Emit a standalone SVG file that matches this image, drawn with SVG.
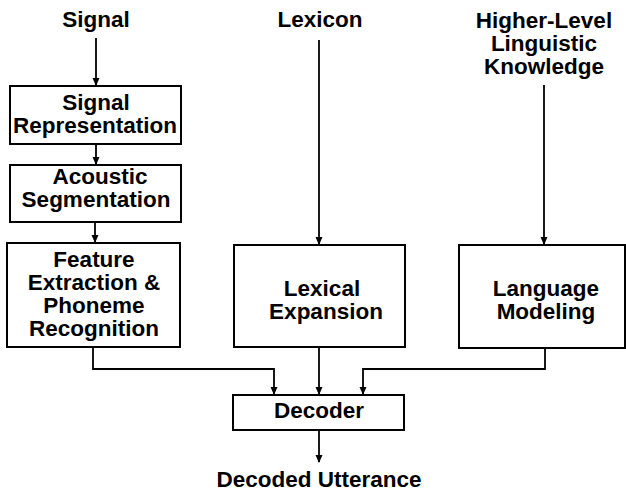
<svg xmlns="http://www.w3.org/2000/svg" width="626" height="491" viewBox="0 0 626 491">
<defs>
<marker id="ah" markerWidth="8" markerHeight="10" refX="7" refY="4" orient="auto" markerUnits="userSpaceOnUse">
<path d="M0,0.5 L8,4 L0,7.5 Z" fill="#000"/>
</marker>
<style>
.box{fill:#fff;stroke:#000;stroke-width:2}
.t{font-family:"Liberation Sans",Arial,sans-serif;font-weight:bold;font-size:22.5px;text-anchor:middle;fill:#000}
.c{fill:none;stroke:#000;stroke-width:1.8}
</style>
</defs>
<rect width="626" height="491" fill="#fff"/>
<g id="connectors">
<path class="c" d="M96,38 V85" marker-end="url(#ah)"/>
<path class="c" d="M96,144 V164" marker-end="url(#ah)"/>
<path class="c" d="M95,222 V242" marker-end="url(#ah)"/>
<path class="c" d="M319,40 V244" marker-end="url(#ah)"/>
<path class="c" d="M544,85 V244" marker-end="url(#ah)"/>
<path class="c" d="M93,347 V369 H274 V394" marker-end="url(#ah)"/>
<path class="c" d="M319,347 V394" marker-end="url(#ah)"/>
<path class="c" d="M545,348 V369 H363 V394" marker-end="url(#ah)"/>
<path class="c" d="M319,430 V462" marker-end="url(#ah)"/>
</g>
<g id="signal"><text class="t" x="96" y="27">Signal</text></g>
<g id="lexicon"><text class="t" x="320" y="27">Lexicon</text></g>
<g id="knowledge"><text class="t" x="544" y="28">Higher-Level</text><text class="t" x="544" y="51">Linguistic</text><text class="t" x="544" y="74">Knowledge</text></g>
<g id="sigrep"><rect class="box" x="10" y="86" width="171" height="58"/><text class="t" x="96" y="110">Signal</text><text class="t" x="95" y="133">Representation</text></g>
<g id="acoustic"><rect class="box" x="10" y="165" width="171" height="57"/><text class="t" x="100" y="184">Acoustic</text><text class="t" x="96" y="207">Segmentation</text></g>
<g id="feature"><rect class="box" x="7" y="243" width="173" height="104"/><text class="t" x="94" y="267">Feature</text><text class="t" x="94" y="290">Extraction &amp;</text><text class="t" x="94" y="313">Phoneme</text><text class="t" x="94" y="336">Recognition</text></g>
<g id="lexical"><rect class="box" x="234" y="245" width="171" height="102"/><text class="t" x="322" y="296">Lexical</text><text class="t" x="326" y="319">Expansion</text></g>
<g id="language"><rect class="box" x="459" y="245" width="166" height="103"/><text class="t" x="546" y="296">Language</text><text class="t" x="546" y="319">Modeling</text></g>
<g id="decoder"><rect class="box" x="233" y="395" width="171" height="35"/><text class="t" x="319" y="418">Decoder</text></g>
<g id="output"><text class="t" x="319" y="487">Decoded Utterance</text></g>
</svg>
